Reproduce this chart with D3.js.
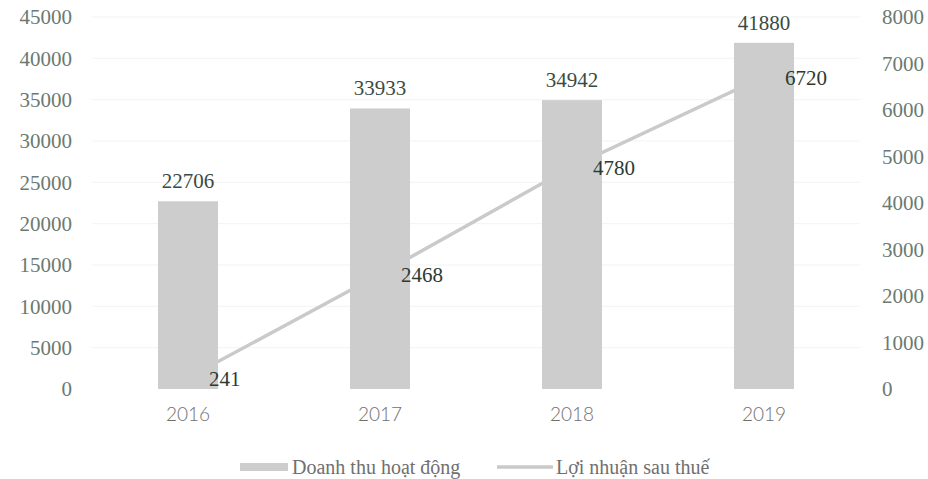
<!DOCTYPE html>
<html><head><meta charset="utf-8">
<script src="https://cdn.jsdelivr.net/npm/d3@7"></script>
<style>body{margin:0;background:#fff}</style>
</head><body>
<svg id="c" width="928" height="479"></svg>
<script>
const years = ["2016","2017","2018","2019"];
const revenue = [22706, 33933, 34942, 41880];
const profit = [241, 2468, 4780, 6720];
const leftTicks = [0,5000,10000,15000,20000,25000,30000,35000,40000,45000];
const rightTicks = [0,1000,2000,3000,4000,5000,6000,7000,8000];
const seriesNames = ["Doanh thu hoạt động", "Lợi nhuận sau thuế"];

const svg = d3.select("#c");
const x = d3.scaleBand().domain(years).range([92, 860]).paddingInner(0.6875).paddingOuter(0.34375);
const yL = d3.scaleLinear().domain([0,45000]).range([389,17]);
const yR = d3.scaleLinear().domain([0,8000]).range([389,17]);
const serif = "'Liberation Serif','DejaVu Serif',serif";
const axisCol = "#6b7a72";
const barCol = "#cdcdcd";
const lineCol = "#cacaca";

// gridlines
svg.append("g").selectAll("line").data(leftTicks.slice(1)).join("line")
  .attr("x1",92).attr("x2",860).attr("y1",d=>yL(d)).attr("y2",d=>yL(d))
  .attr("stroke","#f3f3f3").attr("stroke-width",1);

// left axis
const gL = svg.append("g").attr("transform","translate(74,0)")
  .call(d3.axisLeft(yL).tickValues(leftTicks).tickSize(0).tickPadding(2).tickFormat(d3.format("d")));
gL.select(".domain").remove();
gL.selectAll("text").attr("font-family",serif).attr("font-size",21).attr("fill",axisCol);

// right axis
const gR = svg.append("g").attr("transform","translate(880,0)")
  .call(d3.axisRight(yR).tickValues(rightTicks).tickSize(0).tickPadding(2).tickFormat(d3.format("d")));
gR.select(".domain").remove();
gR.selectAll("text").attr("font-family",serif).attr("font-size",21).attr("fill",axisCol);

// x axis
const gX = svg.append("g").attr("transform","translate(0,403)")
  .call(d3.axisBottom(x).tickSize(0).tickPadding(4));
gX.select(".domain").remove();
gX.selectAll("text").attr("font-family","Lato, 'Open Sans', sans-serif").attr("font-weight",300)
  .attr("font-size",19).attr("fill","#707070");

// line (behind bars)
const cx = d => x(d) + x.bandwidth()/2;
const line = d3.line().x((d,i)=>cx(years[i])).y(d=>yR(d));
svg.append("path").datum(profit).attr("d",line).attr("fill","none")
  .attr("stroke",lineCol).attr("stroke-width",3.5);

// bars
svg.append("g").selectAll("rect").data(revenue).join("rect")
  .attr("x",(d,i)=>x(years[i])).attr("width",x.bandwidth())
  .attr("y",d=>yL(d)).attr("height",d=>yL(0)-yL(d)).attr("fill",barCol);

// bar labels
svg.append("g").selectAll("text").data(revenue).join("text")
  .attr("x",(d,i)=>cx(years[i])).attr("y",d=>yL(d)-13)
  .attr("text-anchor","middle").attr("font-family",serif).attr("font-size",21)
  .attr("fill","#3a4b43").text(d=>d);

// line labels
svg.append("g").selectAll("text").data(profit).join("text")
  .attr("x",(d,i)=>cx(years[i])+21).attr("y",d=>yR(d)+8)
  .attr("font-family",serif).attr("font-size",21)
  .attr("fill","#2c3a33").text(d=>d);

// legend
const lg = svg.append("g");
lg.append("rect").attr("x",240).attr("y",463).attr("width",48).attr("height",8).attr("fill",barCol);
lg.append("text").attr("x",292).attr("y",474).attr("font-family",serif).attr("font-size",20)
  .attr("fill","#707070").text(seriesNames[0]);
lg.append("line").attr("x1",497).attr("x2",553).attr("y1",467).attr("y2",467)
  .attr("stroke",lineCol).attr("stroke-width",3.5);
lg.append("text").attr("x",556).attr("y",474).attr("font-family",serif).attr("font-size",20)
  .attr("fill","#707070").text(seriesNames[1]);
</script>
</body></html>
